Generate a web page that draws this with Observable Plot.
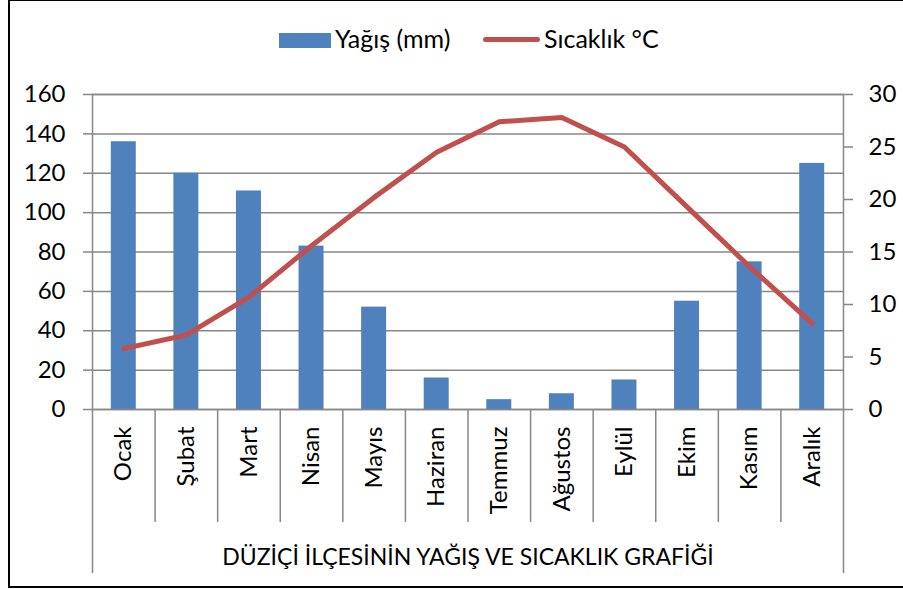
<!DOCTYPE html>
<html>
<head>
<meta charset="utf-8">
<script src="https://cdn.jsdelivr.net/npm/d3@7"></script>
<script src="https://cdn.jsdelivr.net/npm/@observablehq/plot@0.6"></script>
<style>
  html, body { margin: 0; padding: 0; background: #fff; overflow: hidden; }
  #wrap { position: relative; width: 903px; height: 589px; font-family: Lato, "Open Sans", sans-serif; }
  #border { position: absolute; left: 8px; top: -1px; width: 905px; height: 589px; box-sizing: border-box; border: 2px solid #000; pointer-events: none; }
  #chart { position: absolute; left: 0; top: 0; }
  .leg { position: absolute; font-size: 25px; color: #000; line-height: 1; }
</style>
</head>
<body>
<div id="wrap">
  <div id="chart"></div>
  <div id="legend"></div>
  <div id="border"></div>
</div>
<script>
const months = ["Ocak","Şubat","Mart","Nisan","Mayıs","Haziran","Temmuz","Ağustos","Eylül","Ekim","Kasım","Aralık"];
const rain = [136, 120, 111, 83, 52, 16, 5, 8, 15, 55, 75, 125];
const temp = [5.8, 7.1, 10.7, 15.6, 20.2, 24.5, 27.4, 27.8, 25.0, 19.3, 13.6, 8.2];
const rainTicks = [0, 20, 40, 60, 80, 100, 120, 140, 160];
const tempTicks = [0, 5, 10, 15, 20, 25, 30];
const seriesNames = ["Yağış (mm)", "Sıcaklık °C"];
const title = "DÜZİÇİ İLÇESİNİN YAĞIŞ VE SICAKLIK GRAFİĞİ";

const blue = "#4F81BD", red = "#C0504D", gray = "#878787";
const rainMax = 160, tempMax = 30;
const toRain = t => t * rainMax / tempMax;

const data = months.map((m, i) => ({month: m, i, rain: rain[i], temp: temp[i]}));
const boundaries = d3.range(0, months.length + 1);

const chart = Plot.plot({
  width: 903,
  height: 589,
  marginLeft: 92,
  marginRight: 60,
  marginTop: 94,
  marginBottom: 180,
  style: {fontFamily: "Lato, 'Open Sans', sans-serif", fontSize: "24px", color: "#000", background: "transparent"},
  x: {domain: [0, months.length]},
  y: {domain: [0, rainMax]},
  marks: [
    Plot.gridY(rainTicks, {stroke: gray, strokeOpacity: 1, strokeWidth: 1.5}),
    Plot.rectY(data, {x1: "i", x2: d => d.i + 1, y: "rain", fill: blue, insetLeft: 18.8, insetRight: 18.8}),
    Plot.line(data, {x: d => d.i + 0.5, y: d => toRain(d.temp), stroke: red, strokeWidth: 5, strokeLinejoin: "round", strokeLinecap: "round"}),
    Plot.frame({stroke: gray, strokeWidth: 1.5}),
    Plot.axisY({anchor: "left", ticks: rainTicks, tickSize: 9, tickPadding: 18, stroke: gray, strokeWidth: 1.5, fill: "#000", label: null}),
    Plot.axisY({anchor: "right", ticks: tempTicks.map(toRain), tickSize: 9, tickPadding: 16, tickFormat: d => String(Math.round(d * tempMax / rainMax)), stroke: gray, strokeWidth: 1.5, fill: "#000", label: null}),
    Plot.axisX({ticks: boundaries.slice(1, -1), tickSize: 113, tickFormat: () => "", stroke: gray, strokeWidth: 1.5, label: null}),
    Plot.axisX({ticks: [boundaries[0], boundaries[boundaries.length - 1]], tickSize: 164, tickFormat: () => "", stroke: gray, strokeWidth: 1.5, label: null}),
    Plot.text(data, {x: d => d.i + 0.5, text: "month", frameAnchor: "bottom", rotate: -90, textAnchor: "end", lineAnchor: "middle", dy: 17, fill: "#000"}),
    Plot.text([title], {text: d => d, frameAnchor: "bottom", dy: 148, lineAnchor: "middle", fill: "#000", fontSize: 23})
  ]
});
document.getElementById("chart").appendChild(chart);

const legend = document.getElementById("legend");
legend.innerHTML = `
  <div style="position:absolute;left:279px;top:33px;width:52px;height:15px;background:${blue}"></div>
  <div class="leg" style="left:335px;top:26px">${seriesNames[0]}</div>
  <div style="position:absolute;left:483px;top:37px;width:57px;height:5px;border-radius:3px;background:${red}"></div>
  <div class="leg" style="left:544px;top:26px">${seriesNames[1]}</div>
`;
</script>
</body>
</html>
